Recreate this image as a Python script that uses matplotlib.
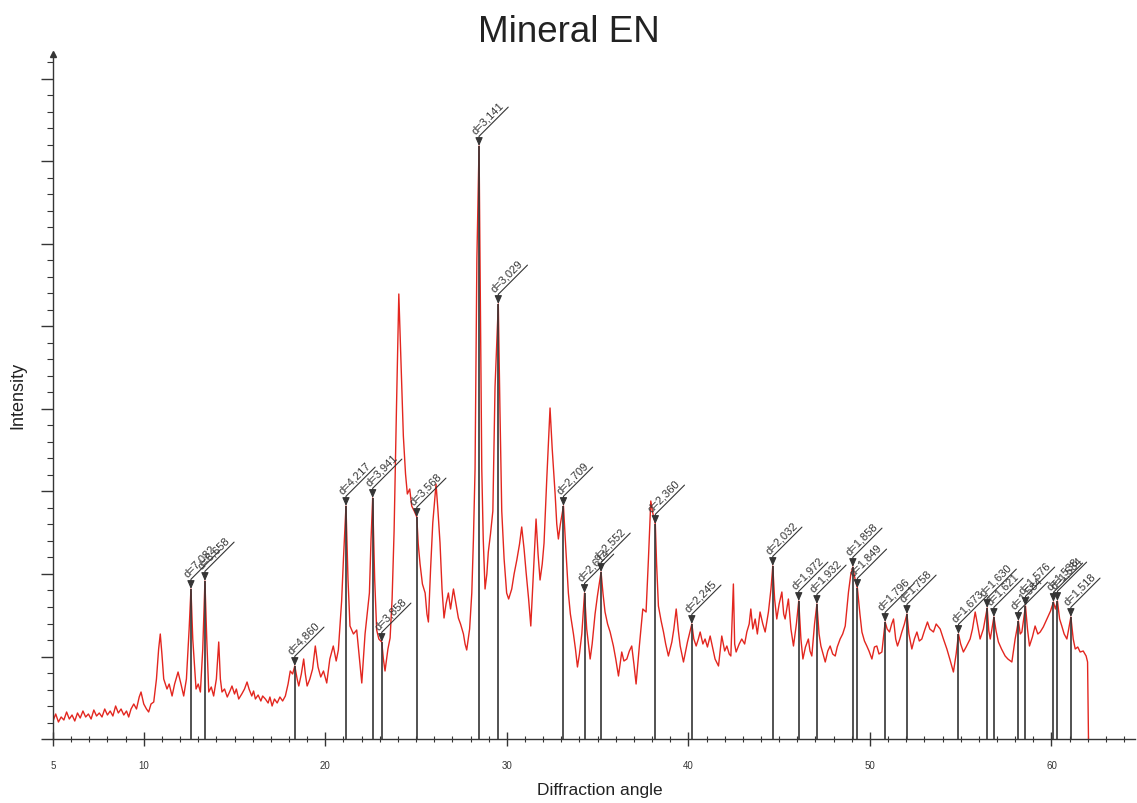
import numpy as np
import matplotlib.pyplot as plt
from matplotlib.ticker import MultipleLocator, FixedLocator

plt.rcParams['font.family'] = ['Liberation Sans', 'DejaVu Sans']

# measured pattern (2theta, intensity in arbitrary counts)
two_theta = [5.0, 5.15, 5.3, 5.45, 5.6, 5.75, 5.9, 6.05, 6.2, 6.35, 6.5, 6.65, 6.8, 6.95, 7.1, 7.25, 7.4, 7.55, 7.7, 7.85,
             8.0, 8.15, 8.3, 8.45, 8.6, 8.75, 8.9, 9.05, 9.17, 9.3, 9.45, 9.6, 9.75, 9.85, 10.0, 10.15, 10.27, 10.4, 10.55, 10.7,
             10.82, 10.91, 11.0, 11.1, 11.28, 11.4, 11.56, 11.7, 11.89, 12.05, 12.2, 12.35, 12.5, 12.6, 12.7, 12.88, 13.0, 13.12, 13.25, 13.37,
             13.47, 13.58, 13.72, 13.85, 14.0, 14.13, 14.22, 14.31, 14.45, 14.6, 14.75, 14.86, 15.0, 15.1, 15.23, 15.4, 15.55, 15.69, 15.8, 15.95,
             16.05, 16.15, 16.3, 16.45, 16.55, 16.7, 16.85, 16.95, 17.07, 17.2, 17.35, 17.5, 17.65, 17.8, 17.95, 18.07, 18.2, 18.32, 18.45, 18.54,
             18.68, 18.81, 18.9, 19.0, 19.15, 19.3, 19.45, 19.6, 19.75, 19.9, 20.08, 20.25, 20.44, 20.6, 20.72, 20.9, 21.0, 21.14, 21.25, 21.36,
             21.55, 21.73, 21.88, 22.01, 22.19, 22.43, 22.52, 22.61, 22.72, 22.83, 22.95, 23.11, 23.2, 23.29, 23.45, 23.57, 23.68, 23.79, 23.92, 24.05,
             24.18, 24.3, 24.42, 24.52, 24.65, 24.76, 24.9, 25.04, 25.12, 25.22, 25.35, 25.5, 25.6, 25.68, 25.8, 25.92, 26.1, 26.2, 26.32, 26.43,
             26.54, 26.65, 26.78, 26.9, 27.06, 27.2, 27.33, 27.45, 27.61, 27.7, 27.79, 27.95, 28.07, 28.16, 28.25, 28.35, 28.47, 28.55, 28.62, 28.7,
             28.8, 28.9, 28.98, 29.1, 29.23, 29.35, 29.53, 29.62, 29.72, 29.85, 29.99, 30.1, 30.27, 30.4, 30.55, 30.7, 30.82, 30.95, 31.06, 31.2,
             31.32, 31.45, 31.61, 31.72, 31.83, 31.95, 32.05, 32.2, 32.38, 32.5, 32.66, 32.75, 32.84, 32.95, 33.12, 33.25, 33.39, 33.5, 33.67, 33.78,
             33.89, 34.0, 34.13, 34.28, 34.4, 34.59, 34.7, 34.86, 34.99, 35.19, 35.3, 35.41, 35.55, 35.69, 35.87, 36.0, 36.15, 36.33, 36.45, 36.61,
             36.75, 36.88, 37.0, 37.12, 37.3, 37.49, 37.67, 37.8, 37.93, 38.05, 38.18, 38.25, 38.35, 38.5, 38.63, 38.75, 38.9, 39.09, 39.2, 39.33,
             39.45, 39.55, 39.73, 39.85, 39.95, 40.19, 40.3, 40.43, 40.55, 40.65, 40.8, 40.92, 41.05, 41.2, 41.35, 41.47, 41.66, 41.84, 42.0, 42.12,
             42.25, 42.34, 42.48, 42.55, 42.63, 42.8, 42.94, 43.1, 43.22, 43.35, 43.44, 43.55, 43.68, 43.8, 43.95, 44.1, 44.23, 44.41, 44.55, 44.65,
             44.75, 44.87, 45.0, 45.15, 45.25, 45.33, 45.51, 45.65, 45.79, 45.95, 46.08, 46.2, 46.31, 46.45, 46.61, 46.7, 46.8, 46.95, 47.08, 47.2,
             47.3, 47.42, 47.54, 47.68, 47.81, 47.95, 48.09, 48.2, 48.36, 48.5, 48.64, 48.82, 48.95, 49.06, 49.2, 49.31, 49.45, 49.56, 49.7, 49.83,
             49.95, 50.11, 50.25, 50.38, 50.5, 50.66, 50.84, 50.95, 51.08, 51.2, 51.3, 51.42, 51.52, 51.65, 51.76, 51.9, 52.04, 52.15, 52.31, 52.45,
             52.59, 52.72, 52.86, 53.0, 53.17, 53.3, 53.5, 53.65, 53.87, 54.05, 54.24, 54.4, 54.6, 54.75, 54.88, 55.0, 55.15, 55.3, 55.52, 55.65,
             55.8, 55.95, 56.07, 56.25, 56.46, 56.55, 56.63, 56.83, 56.95, 57.08, 57.25, 57.45, 57.6, 57.82, 58.0, 58.18, 58.28, 58.37, 58.57, 58.68,
             58.79, 58.95, 59.1, 59.25, 59.38, 59.55, 59.75, 59.95, 60.11, 60.22, 60.33, 60.45, 60.57, 60.7, 60.85, 61.07, 61.2, 61.31, 61.45, 61.58,
             61.75, 61.91, 61.99, 62.04]
intensity = [18, 25, 17, 22, 19, 27, 20, 24, 18, 26, 21, 28, 22, 25, 20, 29, 23, 26, 22, 30,
             24, 28, 23, 33, 26, 30, 24, 28, 22, 30, 35, 30, 42, 47, 35, 30, 27, 35, 37, 60,
             90, 105, 85, 60, 50, 55, 43, 55, 67, 55, 43, 60, 110, 150, 100, 50, 55, 47, 90, 158,
             100, 47, 52, 43, 60, 97, 60, 47, 50, 42, 48, 53, 45, 50, 40, 45, 50, 57, 50, 43,
             48, 40, 44, 38, 43, 40, 36, 42, 33, 40, 36, 42, 38, 43, 55, 68, 65, 73, 60, 53,
             65, 80, 65, 53, 60, 70, 93, 72, 62, 68, 56, 80, 93, 78, 89, 138, 180, 233, 160, 113,
             105, 109, 80, 56, 105, 146, 200, 241, 160, 109, 100, 97, 80, 68, 90, 101, 140, 208, 330, 445,
             370, 303, 265, 245, 250, 233, 228, 222, 195, 175, 155, 146, 125, 117, 170, 216, 255, 230, 196, 150,
             121, 135, 146, 130, 150, 135, 121, 115, 105, 95, 89, 110, 146, 200, 270, 480, 593, 420, 270, 200,
             150, 165, 187, 205, 228, 352, 435, 330, 228, 180, 146, 140, 150, 165, 179, 195, 212, 190, 167, 140,
             113, 160, 220, 185, 159, 175, 196, 260, 331, 290, 245, 215, 200, 215, 233, 190, 146, 125, 105, 90,
             72, 85, 105, 146, 110, 80, 95, 125, 143, 167, 145, 127, 115, 107, 93, 80, 63, 87, 78, 80,
             88, 93, 75, 55, 93, 130, 127, 180, 238, 225, 215, 175, 133, 118, 107, 95, 83, 97, 110, 130,
             108, 93, 77, 88, 97, 115, 100, 93, 100, 107, 95, 100, 92, 103, 90, 80, 73, 103, 88, 93,
             85, 83, 155, 95, 87, 95, 100, 95, 107, 115, 130, 110, 120, 105, 127, 115, 107, 127, 150, 173,
             140, 120, 135, 147, 125, 120, 140, 110, 93, 115, 138, 100, 80, 92, 100, 88, 83, 115, 135, 105,
             93, 85, 77, 88, 93, 85, 83, 92, 100, 105, 113, 147, 165, 172, 158, 151, 125, 107, 98, 93,
             88, 80, 92, 93, 85, 87, 117, 110, 107, 115, 120, 100, 93, 100, 107, 115, 125, 105, 90, 100,
             107, 98, 100, 108, 117, 110, 107, 115, 110, 100, 90, 80, 67, 85, 105, 95, 87, 92, 100, 110,
             127, 112, 100, 110, 131, 108, 100, 122, 108, 97, 90, 83, 80, 77, 100, 118, 105, 107, 133, 110,
             93, 102, 113, 105, 107, 112, 120, 128, 137, 130, 138, 120, 113, 105, 100, 122, 100, 90, 92, 87,
             88, 83, 77, 0]

# identified peaks
peak_theta = [12.6, 13.37, 18.32, 21.14, 22.61, 23.11, 25.04, 28.47, 29.53, 33.12, 34.28, 35.19, 38.18, 40.19, 44.65,
              46.08, 47.08, 49.06, 49.31, 50.84, 52.04, 54.88, 56.46, 56.83, 58.18, 58.57, 60.11, 60.33, 61.07]
peak_height = [150, 158, 73, 233, 241, 97, 222, 593, 435, 233, 146, 167, 215, 115, 173,
               138, 135, 172, 151, 117, 125, 105, 131, 122, 118, 133, 137, 138, 122]
peak_label = ['d=7,082', 'd=6,658', 'd=4,860', 'd=4,217', 'd=3,941', 'd=3,858', 'd=3,568', 'd=3,141', 'd=3,029',
              'd=2,709', 'd=2,614', 'd=2,552', 'd=2,360', 'd=2,245', 'd=2,032', 'd=1,972', 'd=1,932', 'd=1,858',
              'd=1,849', 'd=1,796', 'd=1,758', 'd=1,673', 'd=1,630', 'd=1,621', 'd=1,584', 'd=1,576', 'd=1,538',
              'd=1,534', 'd=1,518']

ink = '#353535'

fig = plt.figure(figsize=(11.37, 8.04), dpi=100)
ax = fig.add_axes([0.0466, 0.0796, 0.9516, 0.852])

ax.plot(two_theta, intensity, color='#e3261f', lw=1.0, zorder=2)
ax.vlines(peak_theta, 0, peak_height, color=ink, lw=1.2, zorder=3)

for x, h, lab in zip(peak_theta, peak_height, peak_label):
    ax.annotate('', xy=(x, h), xytext=(21, 28), textcoords='offset points',
                arrowprops=dict(arrowstyle='-|>,head_length=0.5,head_width=0.22', color=ink, lw=0.8,
                                shrinkA=0, shrinkB=0,
                                connectionstyle='angle,angleA=45,angleB=90,rad=0'))
    ax.annotate(lab, xy=(x, h), xytext=(-2.5, 9), textcoords='offset points',
                rotation=45, rotation_mode='anchor', ha='left', va='baseline',
                fontsize=8, color=ink)

ax.set_xlim(5, 64.6)
ax.set_ylim(0, 685)

for s in ['top', 'right']:
    ax.spines[s].set_visible(False)
for s in ['left', 'bottom']:
    ax.spines[s].set_color(ink)
    ax.spines[s].set_linewidth(1.0)

ax.xaxis.set_major_locator(FixedLocator([5, 10, 20, 30, 40, 50, 60]))
ax.xaxis.set_minor_locator(MultipleLocator(1))
ax.tick_params(axis='x', which='major', direction='inout', length=10, width=1, colors=ink,
               labelsize=7, pad=10)
ax.tick_params(axis='x', which='minor', direction='inout', length=5, width=0.8, colors=ink)

ax.yaxis.set_major_locator(MultipleLocator(82.5))
ax.yaxis.set_minor_locator(MultipleLocator(16.5))
ax.tick_params(axis='y', which='major', direction='out', length=9, width=1, colors=ink, labelleft=False)
ax.tick_params(axis='y', which='minor', direction='out', length=4, width=0.8, colors=ink)

# arrow on top of the intensity axis
ax.plot([0], [1], marker='^', color=ink, ms=5, transform=ax.transAxes, clip_on=False)

fig.text(0.5, 1 - 42 / 804, 'Mineral EN', ha='center', va='baseline', fontsize=26.5, color='#222222')
fig.text(600 / 1137, 1 - 795 / 804, 'Diffraction angle', ha='center', va='baseline', fontsize=12.5, color='#222222')
fig.text(18 / 1137, 1 - 395 / 804, 'Intensity', ha='center', va='center', rotation=90, fontsize=13, color='#222222')

fig.savefig('out.png', dpi=100)
